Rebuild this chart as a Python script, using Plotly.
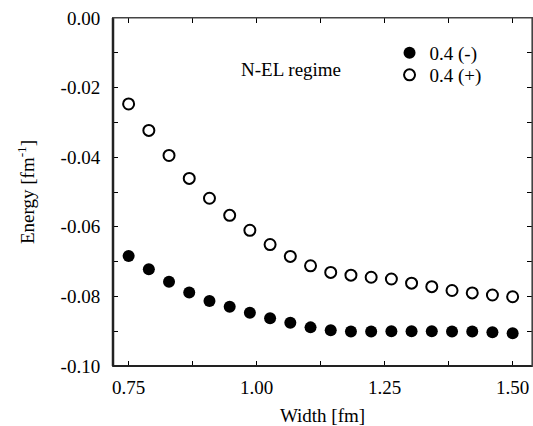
import plotly.graph_objects as go

width_fm = [0.75, 0.7895, 0.8289, 0.8684, 0.9079, 0.9474, 0.9868, 1.0263, 1.0658, 1.1053,
            1.1447, 1.1842, 1.2237, 1.2632, 1.3026, 1.3421, 1.3816, 1.4211, 1.4605, 1.50]
energy_minus = [-0.0684, -0.0722, -0.0758, -0.0789, -0.0813, -0.0830, -0.0847, -0.0863, -0.0876, -0.0889,
                -0.0897, -0.0901, -0.0901, -0.0900, -0.0900, -0.0900, -0.0901, -0.0901, -0.0903, -0.0906]
energy_plus = [-0.0247, -0.0323, -0.0395, -0.0461, -0.0518, -0.0567, -0.0610, -0.0651, -0.0685, -0.0712,
               -0.0731, -0.0739, -0.0745, -0.0750, -0.0762, -0.0772, -0.0783, -0.0790, -0.0796, -0.0801]
names = ["0.4 (-)", "0.4 (+)"]
x_ticks = [0.75, 1.00, 1.25, 1.50]
x_ticktext = ["0.75", "1.00", "1.25", "1.50"]
y_ticks = [-0.10, -0.08, -0.06, -0.04, -0.02, 0.00]
y_ticktext = ["-0.10", "-0.08", "-0.06", "-0.04", "-0.02", "0.00"]
x_minor = [0.875, 1.125, 1.375]
y_minor = [-0.09, -0.07, -0.05, -0.03, -0.01]

FONT = "Liberation Serif, Times New Roman, serif"
FS = 19
xr = [0.7195, 1.5378]
yr = [-0.10, 0.0]

fig = go.Figure()
fig.add_trace(go.Scatter(x=width_fm, y=energy_minus, mode="markers", name=names[0], legend="legend",
                         marker=dict(symbol="circle", size=12, color="black", line=dict(width=0))))
fig.add_trace(go.Scatter(x=width_fm, y=energy_plus, mode="markers", name=names[1], legend="legend2",
                         marker=dict(symbol="circle", size=11, color="white",
                                     line=dict(width=2, color="black"))))

tick_style = dict(showgrid=False, zeroline=False, ticks="inside", ticklen=5, tickwidth=1,
                  tickcolor="black", showline=True, linewidth=1, linecolor="#444",
                  mirror="ticks", ticklabeloverflow="allow", automargin=False)
minor_x = dict(tickvals=x_minor, ticks="inside", ticklen=5, tickwidth=1, tickcolor="black", showgrid=False)
minor_y = dict(tickvals=y_minor, ticks="inside", ticklen=5, tickwidth=1, tickcolor="black", showgrid=False)

legend_style = dict(xanchor="left", yanchor="middle", bgcolor="rgba(0,0,0,0)",
                    font=dict(family=FONT, size=FS, color="black"), itemwidth=30)

fig.update_layout(
    width=533, height=426,
    margin=dict(l=113, r=1, t=18, b=60),
    paper_bgcolor="white", plot_bgcolor="white",
    font=dict(family=FONT, size=FS, color="black"),
    showlegend=True,
    legend=dict(x=0.66, y=0.8994, **legend_style),
    legend2=dict(x=0.66, y=0.8362, **legend_style),
    xaxis=dict(range=xr, tickvals=x_ticks, ticktext=x_ticktext, minor=minor_x,
               tickfont=dict(family=FONT, size=FS, color="black"),
               title=dict(text="Width [fm]", font=dict(family=FONT, size=FS), standoff=18),
               ticklabelstandoff=4, **tick_style),
    yaxis=dict(range=yr, tickvals=y_ticks, ticktext=y_ticktext, minor=minor_y,
               tickfont=dict(family=FONT, size=FS, color="black"),
               title=dict(text="Energy [fm<sup>-1</sup>]", font=dict(family=FONT, size=FS), standoff=20),
               ticklabelstandoff=8, **tick_style),
    shapes=[
        dict(type="line", xref="paper", yref="paper", x0=0, x1=0, y0=0, y1=1,
             line=dict(color="#222", width=2.5), layer="above"),
        dict(type="line", xref="paper", yref="paper", x0=0, x1=1, y0=0, y1=0,
             line=dict(color="#222", width=2), layer="above"),
        dict(type="line", xref="paper", yref="paper", x0=0, x1=1, y0=1, y1=1,
             line=dict(color="#444", width=1.2), layer="above"),
        dict(type="line", xref="paper", yref="paper", x0=1, x1=1, y0=0, y1=1,
             line=dict(color="#444", width=1.2), layer="above"),
    ],
)

fig.add_annotation(text="N-EL regime", xref="x", yref="y", x=1.068, y=-0.0147,
                   showarrow=False, font=dict(family=FONT, size=FS, color="black"))

fig.write_html("out.html", config={"displayModeBar": False},
               post_script="document.body.style.margin='0';document.body.style.overflow='hidden';")
